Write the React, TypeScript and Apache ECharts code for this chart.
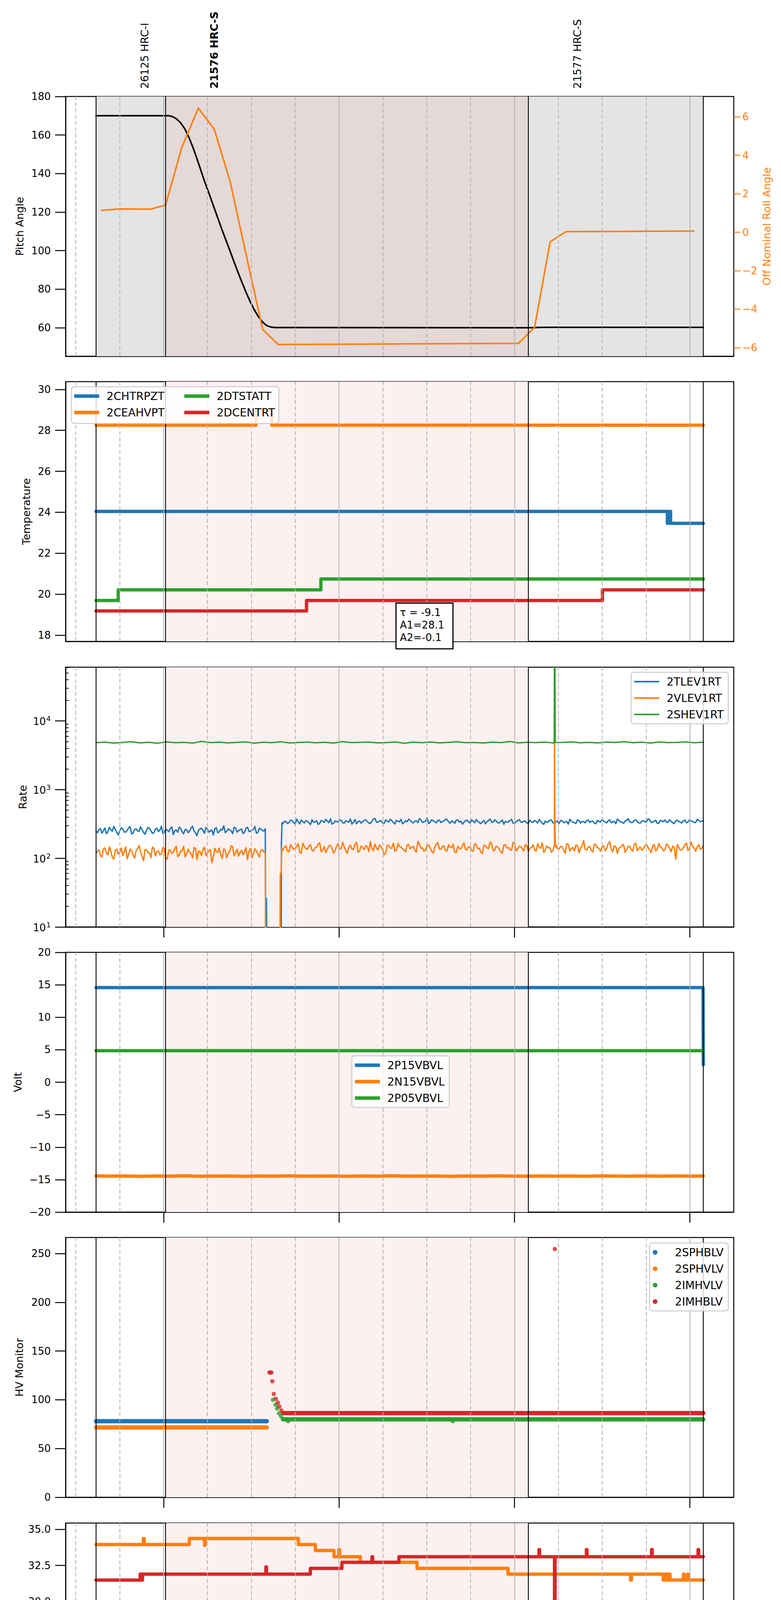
import React, { useEffect, useRef } from 'react';
import * as echarts from 'echarts';

// time axis: minutes after 2021-10-04 22:00
const X_MIN = 26.5;
const X_MAX = 255;
const minorTicks = [30, 45, 75, 90, 105, 135, 150, 165, 195, 210, 225, 255];
const hourTicks = [60, 120, 180, 240];
const hourLabels = ['23h', '00h', '01h', '02h'];

const obsBounds = [36.9, 60.6, 184.7, 244.6];
const obsLabels = ['26125 HRC-I', '21576 HRC-S', '21577 HRC-S'];
const obsLabelTimes = [53.6, 77.3, 201.5];
const obsLabelBold = [false, true, false];

// panel 1
const pitchTime = [36.9, 61.8, 63.0, 64.3, 65.7, 67.2, 68.6, 70.0, 71.4, 72.8, 74.2, 75.6, 77.0, 78.4, 79.8, 81.2, 82.6, 84.0, 85.4, 86.8, 88.2, 89.6, 91.0, 92.4, 93.8, 95.2, 96.6, 98.0, 184.7, 190.0, 244.6];
const pitchValue = [170.0, 170.0, 169.6, 168.5, 166.6, 163.4, 159.0, 153.8, 147.8, 141.5, 135.2, 129.5, 123.5, 117.6, 111.6, 106.0, 100.4, 94.6, 89.0, 83.6, 78.4, 73.6, 69.4, 65.8, 63.0, 61.2, 60.4, 60.1, 60.0, 60.2, 60.2];
const rollTime = [38.8, 44.8, 55.4, 60.7, 66.2, 71.9, 77.35, 82.8, 88.05, 93.9, 99.2, 181.4, 186.9, 192.2, 197.6, 241.3];
const rollValue = [1.14, 1.21, 1.20, 1.41, 4.40, 6.45, 5.35, 2.62, -1.04, -5.06, -5.84, -5.78, -4.94, -0.50, 0.03, 0.06];
const pitchTicks = [60, 80, 100, 120, 140, 160, 180];
const rollTicks = [-6, -4, -2, 0, 2, 4, 6];

// panel 2 (change points: value holds until next point)
const chtrpzt = [[36.9, 24.04], [232.3, 23.46], [232.6, 24.04], [233.4, 23.46], [244.6, 23.46]];
const ceahvpt = [[36.9, 28.25], [91.6, 29.0], [97.0, 28.25], [244.6, 28.25]];
const dtstatt = [[36.9, 19.69], [44.5, 20.21], [113.8, 20.74], [244.6, 20.74]];
const dcentrt = [[36.9, 19.18], [108.9, 19.69], [210.1, 20.21], [244.6, 20.21]];
const tempTicks = [18, 20, 22, 24, 26, 28, 30];

// panel 3 — two interleaved readings per time step
const tlevSeg1 = [248, 262, 231, 275, 244, 258, 290, 236, 252, 268, 241, 279, 226, 263, 250, 287, 239, 257, 272, 230, 266, 245, 292, 238, 255, 270, 221, 259, 284, 243, 262, 236, 275, 249, 213, 267, 256, 281, 240, 258, 271, 235, 264, 297, 247, 259, 228, 276, 252, 266, 239, 283, 248, 262, 231, 274, 255, 268];
const tlevSeg1b = [236, 271, 252, 228, 283, 247, 262, 219, 277, 241, 255, 289, 233, 268, 246, 259, 224, 281, 250, 237, 273, 258, 229, 266, 244, 285, 252, 239, 270, 227, 261, 248, 293, 235, 256, 274, 231, 263, 249, 218, 279, 244, 257, 236, 268, 251, 282, 240, 262, 229, 275, 246, 258, 290, 238, 265, 249, 253];
const tlevGap = [[94.9, 1], [95.2, 26], [95.4, 1], [100.2, 1], [100.3, 165], [100.5, 330]];
const tlevSeg2 = [
  318, 342, 329, 355, 312, 338, 361, 326, 347, 309, 335, 352, 321, 344, 368, 330, 315, 349, 337, 358,
  324, 341, 372, 333, 318, 350, 339, 362, 327, 345, 381, 336, 352, 322, 347, 369, 331, 356, 340, 318,
  353, 372, 338, 347, 329, 363, 341, 386, 335, 352, 328, 359, 344, 371, 337, 349, 323, 361, 346, 334,
  358, 327, 345, 366, 332, 340, 318, 352, 337, 363, 329, 344, 312, 338, 357, 325, 341, 366, 333, 348,
  320, 339, 354, 327, 346, 312, 335, 358, 329, 343, 321, 351, 336, 314, 347, 330, 362, 325, 341, 355,
  332, 348, 319, 344, 367, 336, 351, 328, 345, 372, 339, 323, 356, 341, 333, 362, 327, 349, 338, 375,
  331, 346, 322, 358, 340, 335, 364, 329, 351, 343, 326, 360, 338, 347, 332, 369, 341, 355,
];
const tlevSeg2b = [
  346, 321, 359, 334, 372, 317, 341, 353, 328, 364, 339, 311, 356, 333, 348, 376, 322, 344, 361, 329,
  352, 336, 314, 367, 341, 325, 358, 343, 319, 371, 334, 349, 327, 362, 338, 353, 316, 345, 369, 332,
  340, 357, 326, 351, 378, 333, 346, 320, 363, 339, 355, 331, 348, 367, 324, 342, 359, 336, 314, 353,
  337, 362, 329, 345, 319, 356, 341, 374, 333, 350, 327, 361, 344, 335, 368, 322, 353, 339, 347, 326,
  358, 331, 344, 366, 323, 349, 338, 361, 317, 347, 355, 330, 342, 369, 335, 321, 352, 343, 328, 360,
  345, 323, 356, 337, 349, 328, 364, 341, 318, 353, 336, 347, 379, 331, 357, 340, 326, 352, 344, 366,
  339, 355, 324, 348, 361, 333, 344, 319, 357, 336, 350, 328, 363, 342, 331, 356, 345, 337,
];
const vlevSeg1 = [118, 132, 104, 141, 112, 126, 97, 135, 121, 109, 147, 115, 129, 101, 138, 124, 92, 133, 119, 145, 108, 127, 114, 139, 99, 131, 122, 150, 111, 128, 105, 136, 117, 143, 96, 125, 134, 110, 129, 86, 140, 121, 113, 137, 102, 126, 148, 118, 107, 131, 123, 95, 139, 116, 128, 104, 134, 120];
const vlevSeg1b = [127, 109, 138, 119, 146, 103, 131, 115, 142, 124, 98, 136, 111, 129, 153, 107, 134, 121, 102, 140, 125, 113, 144, 96, 132, 119, 137, 106, 128, 149, 114, 123, 101, 139, 127, 110, 145, 118, 133, 104, 126, 141, 99, 130, 117, 152, 108, 135, 122, 112, 143, 127, 101, 137, 115, 131, 124, 110];
const vlevGap = [[94.9, 1], [99.8, 1], [99.9, 60], [100.2, 58], [100.4, 140]];
const vlevSeg2 = [
  131, 152, 124, 146, 138, 163, 119, 149, 135, 157, 127, 144, 168, 133, 121, 151, 140, 129, 162, 137,
  146, 118, 155, 134, 171, 128, 143, 152, 125, 139, 160, 132, 147, 113, 154, 141, 166, 130, 149, 137,
  124, 158, 145, 131, 176, 139, 127, 153, 142, 119, 161, 136, 148, 129, 157, 143, 122, 150, 137, 168,
  134, 145, 126, 159, 140, 117, 152, 138, 164, 131, 146, 123, 155, 141, 133, 170, 128, 149, 137, 158,
  125, 144, 134, 162, 139, 121, 151, 143, 130, 156, 136, 147, 119, 160, 138, 127, 153, 142, 181, 132,
  148, 124, 157, 139, 146, 129, 163, 135, 152, 118, 144, 158, 133, 149, 126, 165, 140, 131, 154, 143,
  122, 159, 137, 147, 128, 161, 139, 150, 97, 145, 134, 156, 130, 172, 141, 148, 136, 153,
];
const vlevSeg2b = [
  144, 127, 158, 135, 149, 121, 166, 138, 152, 130, 143, 161, 124, 147, 136, 155, 119, 150, 139, 171,
  128, 145, 137, 160, 122, 151, 134, 148, 175, 129, 142, 157, 133, 118, 153, 140, 127, 164, 145, 131,
  156, 137, 149, 123, 162, 141, 132, 158, 126, 146, 169, 135, 151, 128, 144, 160, 121, 139, 154, 133,
  147, 130, 163, 138, 124, 155, 142, 172, 129, 150, 137, 119, 158, 143, 131, 165, 136, 148, 127, 152,
  139, 157, 126, 145, 168, 133, 141, 122, 154, 138, 149, 131, 162, 127, 144, 156, 120, 151, 135, 146,
  130, 161, 143, 127, 152, 138, 174, 125, 147, 140, 156, 122, 149, 134, 160, 129, 145, 137, 157, 132,
  150, 128, 163, 141, 134, 155, 124, 146, 159, 131, 143, 167, 136, 149, 126, 158, 140, 144,
];
const vlevSpike = [[193.5, 150], [193.7, 4700], [193.9, 190], [194.1, 145]];
const shevValues = [4820, 4910, 4760, 4850, 4980, 4790, 4880, 4730, 4940, 4810, 4870, 4760, 5020, 4830, 4900, 4780, 4860, 4950, 4740, 4890, 4810, 4970, 4770, 4850, 4920, 4800, 4880, 4750, 4990, 4830, 4860, 4910, 4780, 4840, 4950, 4720, 4890, 4820, 4930, 4790, 4870, 4960, 4810, 4850, 4770, 4900, 4830, 5010, 4790, 4880, 4840, 4920, 4760, 4870, 4940, 4800, 4860, 4780, 4910, 4850, 4980, 4820, 4890, 4760, 4930, 4840, 4870, 4950, 4800, 4890];
const shevSpike = [[193.6, 4850], [193.75, 1000000], [193.95, 4850]];
const rateTicks = [10, 100, 1000, 10000];
const rateMinorTicks = [20, 30, 40, 50, 60, 70, 80, 90, 200, 300, 400, 500, 600, 700, 800, 900, 2000, 3000, 4000, 5000, 6000, 7000, 8000, 9000, 20000, 30000, 40000, 50000, 60000];

// panel 4
const p15vbvl = [[36.9, 14.57], [244.5, 14.57], [244.6, 2.7]];
const p05vbvl = [[36.9, 4.86], [244.6, 4.86]];
const n15vbvlValues = [-14.42, -14.47, -14.44, -14.50, -14.43, -14.46, -14.41, -14.48, -14.45, -14.43, -14.49, -14.44, -14.46, -14.42, -14.47, -14.45, -14.43, -14.48, -14.44, -14.46, -14.41, -14.47, -14.45, -14.43, -14.49, -14.44, -14.46, -14.42, -14.45, -14.47, -14.43, -14.46, -14.44, -14.48, -14.42, -14.45, -14.47, -14.44, -14.46, -14.43, -14.45, -14.44];
const voltTicks = [-20, -15, -10, -5, 0, 5, 10, 15, 20];

// panel 5
const sphblvLevel = [[36.9, 78.0], [95.3, 78.0]];
const sphvlvLevel = [[36.9, 71.6], [95.3, 71.6]];
const imhvlvLevel = [[101.0, 79.9], [244.6, 79.9]];
const imhvlvDots = [[97.4, 100], [98.3, 95], [98.8, 91], [99.5, 86], [100.2, 83], [100.8, 80], [102.6, 78], [158.9, 78]];
const imhblvLevel = [[100.9, 86.3], [244.6, 86.3]];
const imhblvDots = [[96.2, 128], [96.5, 128], [96.9, 128], [97.2, 119], [97.7, 106], [98.4, 101], [99.1, 97], [99.6, 93], [100.3, 89], [193.8, 254.6]];
const hvTicks = [0, 50, 100, 150, 200, 250];

// panel 6
const spinatm = [[36.9, 18.94], [169.3, 19.61], [169.7, 18.94], [170.0, 19.61], [170.6, 18.94], [170.9, 19.61], [171.5, 18.94], [171.8, 19.61], [172.6, 18.94], [172.9, 19.61], [173.7, 18.94], [174.0, 19.61], [175.0, 18.94], [175.2, 19.61], [175.9, 18.94], [176.1, 19.61], [177.7, 18.94], [177.9, 19.61], [178.5, 18.94], [178.7, 19.61], [182.5, 18.94], [182.7, 19.61], [244.6, 19.61]];
const sphvatm = [[36.9, 33.95], [53.1, 34.37], [53.4, 33.95], [68.8, 34.37], [74.0, 33.9], [74.2, 34.37], [106.1, 33.95], [111.9, 33.54], [118.3, 33.11], [119.9, 33.6], [120.2, 33.11], [127.3, 32.72], [146.7, 32.3], [177.8, 31.9], [219.7, 31.5], [220.0, 31.9], [230.9, 31.5], [231.4, 31.9], [231.7, 31.5], [232.3, 31.9], [232.6, 31.5], [233.0, 31.9], [233.2, 31.5], [237.8, 31.9], [238.0, 31.5], [239.2, 31.9], [239.4, 31.5], [244.6, 31.5]];
const iminatm = [[36.9, 19.61], [62.2, 20.4], [62.4, 19.61], [76.0, 20.3], [76.4, 19.61], [76.8, 20.3], [77.3, 19.61], [77.7, 20.3], [78.2, 19.61], [78.6, 20.3], [244.6, 20.3]];
const imhvatm = [[36.9, 31.49], [52.0, 31.9], [52.4, 31.49], [52.8, 31.9], [95.0, 32.4], [95.2, 31.9], [110.2, 32.3], [121.0, 32.72], [131.3, 33.11], [131.5, 32.72], [140.5, 33.11], [188.4, 33.6], [188.6, 33.11], [193.7, 0], [193.9, 33.11], [204.6, 33.6], [204.8, 33.11], [226.9, 33.6], [227.1, 33.11], [242.8, 33.6], [243.0, 33.11], [244.6, 33.11]];
const detTicks = [17.5, 20, 22.5, 25, 27.5, 30, 32.5, 35];

// panel 7
const fhtrmzt = [[36.9, 22.9], [39.5, 23.47], [207.2, 22.9], [244.6, 22.9]];
const fradpyt = [[36.9, 19.16], [90.0, 18.65], [190.4, 18.15], [209.6, 17.65], [244.6, 17.65]];
const fepratm = [[36.9, 24.62], [89.2, 25.38], [89.5, 24.62], [89.9, 25.38], [90.3, 24.62], [90.8, 25.38], [91.2, 24.62], [91.7, 25.38], [92.3, 24.62], [92.8, 25.38], [93.5, 24.62], [94.1, 25.38], [95.0, 24.62], [95.5, 25.38], [171.0, 24.62], [171.2, 25.38], [173.1, 24.62], [173.6, 25.38], [174.2, 24.62], [174.8, 25.38], [175.5, 24.62], [176.1, 25.38], [177.0, 24.62], [177.6, 25.38], [178.4, 24.62], [179.0, 25.38], [180.0, 24.62], [180.4, 25.38], [180.9, 24.62], [193.7, 23.28], [193.9, 24.62], [244.6, 24.62]];
const fe00atm = [
  [36.9, 22.97], [41.5, 23.35], [41.7, 22.97], [63.7, 23.35], [63.9, 22.97], [69.6, 23.28], [70.0, 22.97], [70.4, 23.28], [71.0, 22.97], [71.5, 23.28], [72.0, 22.97], [72.5, 23.28],
  [108.8, 21.98], [109.0, 23.28], [111.5, 22.95], [111.7, 23.28], [119.4, 23.65], [119.6, 23.28], [123.8, 23.99], [124.2, 23.28], [124.5, 23.99], [125.6, 23.28],
  [141.5, 22.6], [141.7, 23.28], [142.7, 22.95], [142.9, 23.28], [148.3, 22.95], [148.5, 23.28], [149.6, 22.97], [150.0, 23.28], [150.5, 22.97], [151.0, 23.28], [151.8, 22.97], [152.3, 23.28], [153.0, 22.97], [153.5, 23.28], [154.4, 22.97], [155.0, 23.28], [155.8, 22.97], [156.4, 23.28], [157.3, 22.97],
  [161.0, 23.65], [161.2, 22.97], [171.0, 23.35], [171.2, 22.97], [174.0, 23.35], [174.2, 22.7], [174.4, 22.97], [186.0, 22.3], [186.2, 22.97], [188.9, 23.35], [189.1, 22.97], [193.7, 0], [193.9, 22.97],
  [201.7, 23.65], [201.9, 22.97], [207.1, 22.3], [207.3, 22.97], [208.3, 23.65], [208.5, 22.97], [210.3, 22.65], [210.5, 22.97], [212.4, 23.35], [212.6, 22.97], [216.3, 23.65], [216.6, 22.97], [217.3, 23.65], [217.7, 22.97],
  [219.0, 21.98], [219.2, 22.97], [220.1, 22.3], [220.3, 22.97], [221.5, 22.66], [222.0, 22.97], [222.6, 22.66], [223.2, 22.97], [224.1, 22.66], [226.0, 23.35], [226.2, 22.66], [230.3, 22.3], [230.5, 22.66], [233.9, 21.98], [234.1, 22.66], [244.6, 22.66],
];
const feaTicks = [18, 20, 22, 24, 26];

const FONT = "'DejaVu Sans', sans-serif";
const BLUE = '#1f77b4';
const ORANGE = '#ff7f0e';
const GREEN = '#2ca02c';
const RED = '#d62728';

const GRID_L = 168;
const GRID_R = 1879;
const GRID_H = 665;
const gridTop = (i: number) => Math.round(247 + 730.3 * i);
const timeToPx = (t: number) => GRID_L + ((t - X_MIN) / (X_MAX - X_MIN)) * (GRID_R - GRID_L);

const zip = (a: number[], b: number[]) => a.map((v, i) => [v, b[i]]);
const spread = (t0: number, t1: number, vals: number[]) =>
  vals.map((v, i) => [t0 + ((t1 - t0) * i) / (vals.length - 1), v]);
// readings a at each step, readings b half a step later
const interleave = (t0: number, t1: number, a: number[], b: number[]) => {
  const step = (t1 - t0) / (a.length - 1);
  const out: number[][] = [];
  a.forEach((v, i) => {
    out.push([t0 + step * i, v]);
    if (i < a.length - 1) out.push([t0 + step * (i + 0.5), b[i]]);
  });
  return out;
};
const byTime = (pts: number[][]) => pts.slice().sort((p, q) => p[0] - q[0]);

const fmt = (d: number) => (v: number) => (v < 0 ? '\u2212' : '') + Math.abs(v).toFixed(d);

const yAxisBase = (grid: number, min: number, max: number, ticks: number[], name: string, gap: number, dec = 0) => ({
  type: 'value',
  gridIndex: grid,
  position: 'left',
  min,
  max,
  axisLine: { show: true, onZero: false, lineStyle: { color: '#000', width: 2.5 } },
  axisTick: { show: true, inside: false, length: 27, customValues: ticks, lineStyle: { color: '#000', width: 2.5 } },
  axisLabel: { customValues: ticks, formatter: fmt(dec), fontSize: 26, fontFamily: FONT, color: '#000', margin: 38 },
  splitLine: { show: false },
  name,
  nameLocation: 'middle',
  nameGap: gap,
  nameRotate: 90,
  nameTextStyle: { fontSize: 27, fontFamily: FONT, color: '#000' },
});

const yMap = [0, 2, 3, 5, 6, 7, 8];

const guideSeries = (i: number) => {
  const shades =
    i === 0
      ? [
          [{ xAxis: obsBounds[0], itemStyle: { color: '#e4e4e4' } }, { xAxis: obsBounds[1] }],
          [{ xAxis: obsBounds[1], itemStyle: { color: '#e4d8d8' } }, { xAxis: obsBounds[2] }],
          [{ xAxis: obsBounds[2], itemStyle: { color: '#e4e4e4' } }, { xAxis: obsBounds[3] }],
        ]
      : [[{ xAxis: obsBounds[1], itemStyle: { color: '#fdf0f0' } }, { xAxis: obsBounds[2] }]];
  const common = { type: 'line', xAxisIndex: i, yAxisIndex: yMap[i], data: [], silent: true };
  const gridLines = [
    ...minorTicks.filter((v) => v < X_MAX).map((v) => ({ xAxis: v, lineStyle: { type: [10, 6], color: '#b0b0b0', width: 2 } })),
    ...hourTicks.map((v) => ({ xAxis: v, lineStyle: { type: 'solid', color: '#b0b0b0', width: 2 } })),
  ];
  return [
    { ...common, z: 0, markArea: { silent: true, data: shades } },
    {
      ...common,
      z: 1,
      markLine: { silent: true, symbol: ['none', 'none'], label: { show: false }, data: gridLines },
    },
    {
      ...common,
      z: 1,
      markLine: {
        silent: true,
        symbol: ['none', 'none'],
        label: { show: false },
        data: obsBounds.map((v) => ({ xAxis: v, lineStyle: { type: 'solid', color: '#000', width: 2.2 } })),
      },
    },
  ];
};

const lineSeries = (name: string, i: number, data: number[][], color: string, width: number, step = false) => ({
  type: 'line',
  name,
  xAxisIndex: i,
  yAxisIndex: yMap[i],
  data,
  step: step ? 'end' : false,
  symbol: 'none',
  z: 3,
  itemStyle: { color },
  lineStyle: { color, width, cap: 'round', join: 'round' },
});

const dotSeries = (name: string, i: number, data: number[][], color: string) => ({
  type: 'scatter',
  name,
  xAxisIndex: i,
  yAxisIndex: yMap[i],
  data,
  symbol: 'circle',
  symbolSize: 11,
  z: 4,
  itemStyle: { color },
});

const legendText = { fontSize: 28, fontFamily: FONT, color: '#000', lineHeight: 30, padding: [0, 0, 0, 14] };
const legendBox = (names: string[], pos: Record<string, number>, icon = 'rect', itemHeight = 9, boxed = true) => ({
  data: names,
  orient: 'vertical',
  ...pos,
  z: 12,
  icon,
  itemWidth: 64,
  itemHeight,
  itemGap: 12,
  selectedMode: false,
  textStyle: legendText,
  itemStyle: { borderWidth: 0 },
  backgroundColor: boxed ? 'rgba(255,255,255,0.8)' : 'transparent',
  borderColor: boxed ? '#cccccc' : 'transparent',
  borderWidth: boxed ? 2.5 : 0,
  borderRadius: 7,
  padding: boxed ? [9, 12, 9, 8] : 0,
});

const App = () => {
  const chartRef = useRef<HTMLDivElement>(null);

  useEffect(() => {
    document.body.style.margin = '0';
    if (!chartRef.current) return;
    const chart = echarts.init(chartRef.current, undefined, { renderer: 'svg' });

    const grids = [0, 1, 2, 3, 4, 5, 6].map((i) => ({
      left: GRID_L,
      top: gridTop(i),
      width: GRID_R - GRID_L,
      height: GRID_H,
      show: true,
      borderColor: '#000',
      borderWidth: 2.5,
      backgroundColor: 'transparent',
    }));

    const mainX = [0, 1, 2, 3, 4, 5, 6].map((i) => ({
      type: 'value',
      gridIndex: i,
      position: 'bottom',
      min: X_MIN,
      max: X_MAX,
      axisLine: { show: true, onZero: false, lineStyle: { color: '#000', width: 2.5 } },
      axisTick: { show: true, inside: true, length: 10, customValues: minorTicks, lineStyle: { color: '#000', width: 2 } },
      axisLabel:
        i === 6
          ? { show: true, customValues: minorTicks, formatter: (v: number) => String(Math.round(v) % 60), fontSize: 18, fontFamily: FONT, color: '#000', margin: 7 }
          : { show: false },
      splitLine: { show: false },
    }));
    const hourX = [2, 3, 4, 5, 6].map((i) => ({
      type: 'value',
      gridIndex: i,
      position: 'bottom',
      min: X_MIN,
      max: X_MAX,
      axisLine: { show: false, onZero: false },
      axisTick: { show: true, inside: false, length: 27, customValues: hourTicks, lineStyle: { color: '#000', width: 2.5 } },
      axisLabel:
        i === 6
          ? { show: true, customValues: hourTicks, formatter: (v: number) => hourLabels[hourTicks.indexOf(Math.round(v))], fontSize: 27, fontFamily: FONT, color: '#000', margin: 36 }
          : { show: false },
      splitLine: { show: false },
      name: i === 6 ? '2021-10-05 (278)' : '',
      nameLocation: 'middle',
      nameGap: 74,
      nameTextStyle: { fontSize: 28, fontFamily: FONT, color: '#000' },
    }));

    const rollAxis = {
      type: 'value',
      gridIndex: 0,
      position: 'right',
      min: -6.45,
      max: 7.06,
      axisLine: { show: false, onZero: false },
      axisTick: { show: true, inside: false, length: 17, customValues: rollTicks, lineStyle: { color: ORANGE, width: 2.5 } },
      axisLabel: { customValues: rollTicks, formatter: fmt(0), fontSize: 26, fontFamily: FONT, color: ORANGE, margin: 22 },
      splitLine: { show: false },
      name: 'Off Nominal Roll Angle',
      nameLocation: 'middle',
      nameGap: 65,
      nameRotate: 90,
      nameTextStyle: { fontSize: 27, fontFamily: FONT, color: ORANGE },
    };

    const rateAxis = {
      type: 'log',
      logBase: 10,
      gridIndex: 2,
      position: 'left',
      min: 10,
      max: 60500,
      axisLine: { show: true, onZero: false, lineStyle: { color: '#000', width: 2.5 } },
      axisTick: { show: true, inside: false, length: 27, customValues: rateTicks, lineStyle: { color: '#000', width: 2.5 } },
      axisLabel: {
        customValues: rateTicks,
        formatter: (v: number) => `{b|10}{s|${Math.round(Math.log10(v))}}`,
        margin: 38,
        rich: {
          b: { fontSize: 26, fontFamily: FONT, color: '#000', verticalAlign: 'bottom' },
          s: { fontSize: 18, fontFamily: FONT, color: '#000', verticalAlign: 'bottom', padding: [0, 0, 12, 1] },
        },
      },
      splitLine: { show: false },
      name: 'Rate',
      nameLocation: 'middle',
      nameGap: 96,
      nameRotate: 90,
      nameTextStyle: { fontSize: 27, fontFamily: FONT, color: '#000' },
    };
    const rateMinorAxis = {
      type: 'log',
      logBase: 10,
      gridIndex: 2,
      position: 'left',
      min: 10,
      max: 60500,
      axisLine: { show: false, onZero: false },
      axisTick: { show: true, inside: true, length: 8, customValues: rateMinorTicks, lineStyle: { color: '#000', width: 1.8 } },
      axisLabel: { show: false },
      splitLine: { show: false },
    };

    const yAxes = [
      yAxisBase(0, 45.2, 180, pitchTicks, 'Pitch Angle', 104),
      rollAxis,
      yAxisBase(1, 17.69, 30.38, tempTicks, 'Temperature', 87),
      rateAxis,
      rateMinorAxis,
      yAxisBase(3, -20, 20, voltTicks, 'Volt', 109),
      yAxisBase(4, 0, 266.4, hvTicks, 'HV Monitor', 105),
      yAxisBase(5, 17.45, 35.44, detTicks, 'Detector Temp', 113, 1),
      yAxisBase(6, 16.65, 26.89, feaTicks, 'FEA Temp', 86),
    ];

    const tlev = [...interleave(36.9, 94.8, tlevSeg1, tlevSeg1b), ...tlevGap, ...interleave(100.8, 244.6, tlevSeg2, tlevSeg2b)];
    const vlev = byTime([
      ...interleave(36.9, 94.8, vlevSeg1, vlevSeg1b),
      ...vlevGap,
      ...interleave(100.8, 244.6, vlevSeg2, vlevSeg2b),
      ...vlevSpike,
    ]);
    const shev = byTime([...spread(36.9, 244.6, shevValues), ...shevSpike]);

    const series: any[] = [];
    for (let i = 0; i < 7; i++) series.push(...guideSeries(i));
    series.push(
      { ...lineSeries('Pitch', 0, zip(pitchTime, pitchValue), '#000', 4) },
      { ...lineSeries('Roll', 0, zip(rollTime, rollValue), ORANGE, 4), yAxisIndex: 1 },

      lineSeries('2CHTRPZT', 1, chtrpzt, BLUE, 8.5, true),
      lineSeries('2CEAHVPT', 1, ceahvpt, ORANGE, 8.5, true),
      lineSeries('2DTSTATT', 1, dtstatt, GREEN, 8.5, true),
      lineSeries('2DCENTRT', 1, dcentrt, RED, 8.5, true),

      lineSeries('2TLEV1RT', 2, tlev, BLUE, 3.5),
      lineSeries('2VLEV1RT', 2, vlev, ORANGE, 3.5),
      lineSeries('2SHEV1RT', 2, shev, GREEN, 3.5),

      lineSeries('2P15VBVL', 3, p15vbvl, BLUE, 8.5),
      lineSeries('2N15VBVL', 3, spread(36.9, 244.6, n15vbvlValues), ORANGE, 8.5),
      lineSeries('2P05VBVL', 3, p05vbvl, GREEN, 8.5),

      lineSeries('2SPHBLV', 4, sphblvLevel, BLUE, 11),
      lineSeries('2SPHVLV', 4, sphvlvLevel, ORANGE, 11),
      lineSeries('2IMHVLV', 4, imhvlvLevel, GREEN, 11),
      dotSeries('2IMHVLV', 4, imhvlvDots, GREEN),
      lineSeries('2IMHBLV', 4, imhblvLevel, RED, 11),
      dotSeries('2IMHBLV', 4, imhblvDots, RED),

      lineSeries('2SPINATM', 5, spinatm, BLUE, 8.5, true),
      lineSeries('2SPHVATM', 5, sphvatm, ORANGE, 8.5, true),
      lineSeries('2IMINATM', 5, iminatm, GREEN, 8.5, true),
      lineSeries('2IMHVATM', 5, imhvatm, RED, 8.5, true),

      lineSeries('2FHTRMZT', 6, fhtrmzt, BLUE, 8.5, true),
      lineSeries('2FRADPYT', 6, fradpyt, ORANGE, 8.5, true),
      lineSeries('2FEPRATM', 6, fepratm, GREEN, 8.5, true),
      lineSeries('2FE00ATM', 6, fe00atm, RED, 8.5, true),
    );

    const legends = [
      legendBox(['2CHTRPZT', '2CEAHVPT'], { left: 190, top: 999 }, 'rect', 9, false),
      legendBox(['2DTSTATT', '2DCENTRT'], { left: 472, top: 999 }, 'rect', 9, false),
      legendBox(['2TLEV1RT', '2VLEV1RT', '2SHEV1RT'], { right: 135, top: 1721 }, 'rect', 4),
      legendBox(['2P15VBVL', '2N15VBVL', '2P05VBVL'], { left: 901, top: 2703 }),
      legendBox(['2SPHBLV', '2SPHVLV', '2IMHVLV', '2IMHBLV'], { right: 135, top: 3182 }, 'circle', 12),
      legendBox(['2SPINATM', '2SPHVATM', '2IMINATM', '2IMHVATM'], { right: 135, top: 4143 }),
      legendBox(['2FHTRMZT', '2FRADPYT', '2FEPRATM', '2FE00ATM'], { right: 140, top: 5102 }),
    ];

    const graphics: any[] = obsLabels.map((label, k) => ({
      type: 'text',
      x: timeToPx(obsLabelTimes[k]),
      y: 227,
      rotation: Math.PI / 2,
      z: 50,
      style: {
        text: label,
        fontSize: 27,
        fontFamily: FONT,
        fontWeight: obsLabelBold[k] ? 'bold' : 'normal',
        fill: '#000',
        align: 'left',
        verticalAlign: 'middle',
        textAlign: 'left',
        textVerticalAlign: 'middle',
      },
    }));
    graphics.push(
      {
        type: 'rect',
        z: 10,
        shape: { x: 183, y: 990, width: 531, height: 94, r: 7 },
        style: { fill: 'rgba(255,255,255,0.8)', stroke: '#cccccc', lineWidth: 2.5 },
      },
      {
        type: 'rect',
        z: 60,
        shape: { x: 1014, y: 1544, width: 146, height: 117 },
        style: { fill: '#fff', stroke: '#000', lineWidth: 3 },
      },
      {
        type: 'text',
        z: 61,
        x: 1024,
        y: 1552,
        style: { text: '\u03c4 = -9.1\nA1=28.1\nA2=-0.1', fontSize: 26, fontFamily: FONT, fill: '#000', lineHeight: 32 },
      },
    );

    chart.setOption({
      animation: false,
      backgroundColor: '#fff',
      textStyle: { fontFamily: FONT },
      grid: grids,
      xAxis: [...mainX, ...hourX],
      yAxis: yAxes,
      legend: legends,
      series,
      graphic: graphics,
    });

    return () => chart.dispose();
  }, []);

  return <div ref={chartRef} style={{ width: 2000, height: 5400 }} />;
};

export default App;
